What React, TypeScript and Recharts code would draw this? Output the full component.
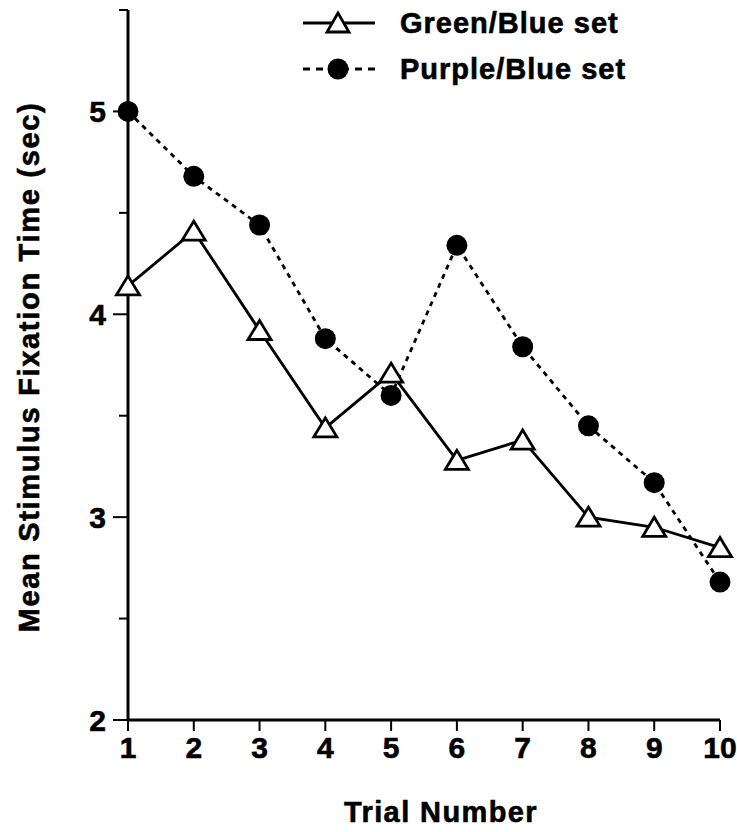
import React from 'react';
import { LineChart, Line, XAxis, YAxis, Legend, Label } from 'recharts';

const trials = [1, 2, 3, 4, 5, 6, 7, 8, 9, 10];
const greenBlue = [4.14, 4.41, 3.92, 3.44, 3.71, 3.28, 3.38, 3.0, 2.95, 2.85];
const purpleBlue = [5.0, 4.68, 4.44, 3.88, 3.6, 4.34, 3.84, 3.45, 3.17, 2.68];
const yTicks = [2, 2.5, 3, 3.5, 4, 4.5, 5, 5.5];
const xTicks = trials;
const seriesNames = ['Green/Blue set', 'Purple/Blue set'];

const data = trials.map((t, i) => ({ trial: t, green: greenBlue[i], purple: purpleBlue[i] }));

const FONT = '"Liberation Sans", Arial, Helvetica, sans-serif';
const LW = 2.8;

const Triangle = (props: any) => {
  const { cx, cy } = props;
  if (cx == null || cy == null) return null;
  const w = 11.5, h = 18;
  const pts = `${cx},${cy - h / 2 - 1} ${cx - w},${cy + h / 2} ${cx + w},${cy + h / 2}`;
  return <polygon points={pts} fill="#fff" stroke="#000" strokeWidth={2.8} strokeLinejoin="miter" />;
};

const Dot = (props: any) => {
  const { cx, cy } = props;
  if (cx == null || cy == null) return null;
  return <circle cx={cx} cy={cy} r={10.5} fill="#000" stroke="none" />;
};

const YTick = (props: any) => {
  const { x, y, payload } = props;
  const v = payload.value;
  const major = Number.isInteger(v);
  const axisX = x + 8 + 15;
  return (
    <g>
      <line x1={axisX - (major ? 15 : 9)} x2={axisX} y1={y} y2={y} stroke="#000" strokeWidth={2} />
      {major && v !== 5.5 ? (
        <text x={x + 1} y={y} dy="0.36em" textAnchor="end" fontFamily={FONT} fontWeight="bold" fontSize={30} stroke="#000" strokeWidth={0.6} fill="#000">
          {v}
        </text>
      ) : null}
    </g>
  );
};

const XTick = (props: any) => {
  const { x, y, payload } = props;
  return (
    <text x={x} y={y} dy="0.71em" textAnchor="middle" fontFamily={FONT} fontWeight="bold" fontSize={30} stroke="#000" strokeWidth={0.6} fill="#000">
      {payload.value}
    </text>
  );
};

const LegendContent = () => {
  const rows = [
    { name: seriesNames[0], dash: undefined as string | undefined, marker: 'tri' },
    { name: seriesNames[1], dash: '7 6', marker: 'dot' },
  ];
  return (
    <div style={{ fontFamily: FONT }}>
      {rows.map((r) => (
        <div key={r.name} style={{ display: 'flex', alignItems: 'center', height: 46 }}>
          <svg width={97} height={30} style={{ display: 'block' }}>
            <line x1={0} x2={72} y1={15} y2={15} stroke="#000" strokeWidth={LW} strokeDasharray={r.dash} />
            {r.marker === 'tri' ? (
              <polygon points="35,5 24,24 46,24" fill="#fff" stroke="#000" strokeWidth={2.8} />
            ) : (
              <circle cx={35} cy={15} r={10.5} fill="#000" />
            )}
          </svg>
          <span
            style={{
              fontWeight: 'bold',
              fontSize: 29,
              letterSpacing: 1,
              color: '#000',
              lineHeight: '30px',
              WebkitTextStroke: '0.6px #000',
            }}
          >
            {r.name}
          </span>
        </div>
      ))}
    </div>
  );
};

export default function App() {
  return (
    <div style={{ position: 'absolute', left: 0, top: 0, background: '#fff' }}>
      <LineChart width={737} height={832} data={data} margin={{ top: 10, right: 17, left: 0, bottom: 52 }}>
        <XAxis
          dataKey="trial"
          type="number"
          domain={[1, 10]}
          ticks={xTicks}
          interval={0}
          tickSize={11}
          tickMargin={6}
          height={60}
          axisLine={{ stroke: '#000', strokeWidth: 3 }}
          tickLine={{ stroke: '#000', strokeWidth: 2 }}
          tick={<XTick />}
        >
          <Label
            content={() => (
              <text x={441} y={822} textAnchor="middle" fontFamily={FONT} fontWeight="bold" fontSize={29} letterSpacing={1.4} stroke="#000" strokeWidth={0.6} fill="#000">
                Trial Number
              </text>
            )}
          />
        </XAxis>
        <YAxis
          type="number"
          domain={[2, 5.5]}
          ticks={yTicks}
          interval={0}
          width={128}
          tickSize={15}
          tickMargin={8}
          axisLine={{ stroke: '#000', strokeWidth: 3 }}
          tickLine={false}
          tick={<YTick />}
        >
          <Label
            content={() => (
              <text
                x={0}
                y={0}
                transform="translate(39, 367) rotate(-90)"
                textAnchor="middle"
                fontFamily={FONT}
                fontWeight="bold"
                fontSize={29}
                letterSpacing={1.7}
                stroke="#000"
                strokeWidth={0.6}
                fill="#000"
              >
                Mean Stimulus Fixation Time (sec)
              </text>
            )}
          />
        </YAxis>
        <Legend
          layout="vertical"
          align="center"
          verticalAlign="middle"
          content={<LegendContent />}
          wrapperStyle={{ position: 'absolute', top: 0, left: 303, width: 380 }}
        />
        <Line
          dataKey="green"
          name={seriesNames[0]}
          stroke="#000"
          strokeWidth={LW}
          dot={<Triangle />}
          activeDot={false}
          isAnimationActive={false}
        />
        <Line
          dataKey="purple"
          name={seriesNames[1]}
          stroke="#000"
          strokeWidth={LW}
          strokeDasharray="5 5"
          dot={<Dot />}
          activeDot={false}
          isAnimationActive={false}
        />
      </LineChart>
    </div>
  );
}
